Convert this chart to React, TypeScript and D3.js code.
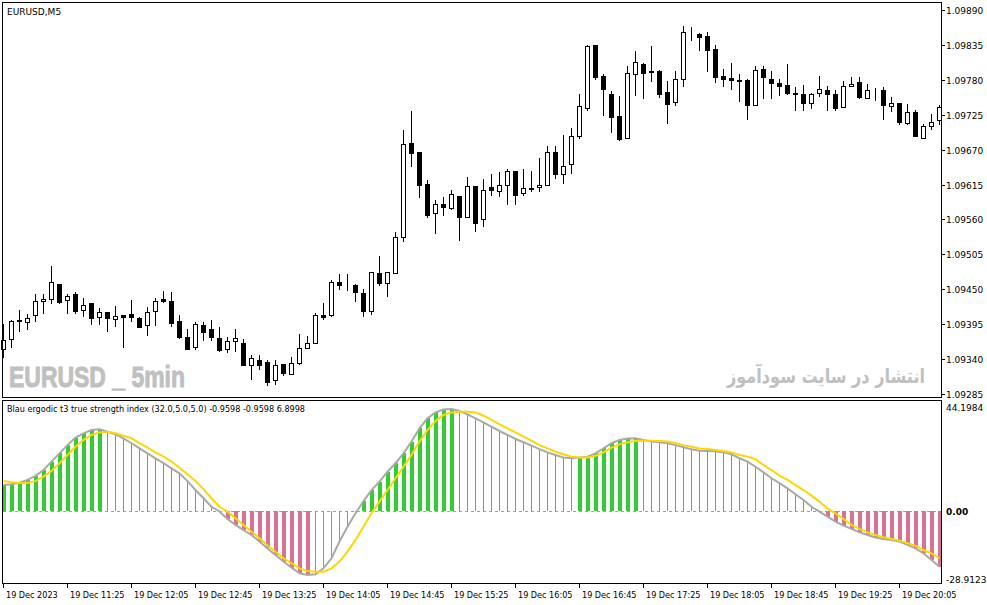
import { useRef, useEffect } from 'react'
import * as d3 from 'd3'

// EURUSD M5 candles, 19 Dec 2023, one bar every 5 minutes from 10:45
const candleOpen = [
  1.09356, 1.09371, 1.09400, 1.09399, 1.09409, 1.09431, 1.09435, 1.09459, 1.09433, 1.09442,
  1.09418, 1.09428, 1.09406, 1.09414, 1.09403, 1.09409, 1.09411, 1.09404, 1.09394, 1.09415,
  1.09435, 1.09431, 1.09400, 1.09375, 1.09359, 1.09393, 1.09387, 1.09373, 1.09356, 1.09368,
  1.09366, 1.09331, 1.09339, 1.09335, 1.09307, 1.09332, 1.09316, 1.09334, 1.09358, 1.09365,
  1.09409, 1.09409, 1.09462, 1.09455, 1.09456, 1.09444, 1.09416, 1.09475, 1.09460, 1.09476,
  1.09533, 1.09680, 1.09666, 1.09616, 1.09570, 1.09585, 1.09578, 1.09597, 1.09564, 1.09612,
  1.09560, 1.09611, 1.09605, 1.09614, 1.09636, 1.09602, 1.09608, 1.09611, 1.09615, 1.09666,
  1.09631, 1.09647, 1.09692, 1.09735, 1.09835, 1.09786, 1.09757, 1.09723, 1.09688, 1.09789,
  1.09805, 1.09793, 1.09794, 1.09761, 1.09745, 1.09782, 1.09853, 1.09852, 1.09849, 1.09828,
  1.09786, 1.09783, 1.09780, 1.09780, 1.09741, 1.09797, 1.09782, 1.09775, 1.09772, 1.09759,
  1.09757, 1.09743, 1.09759, 1.09764, 1.09757, 1.09737, 1.09771, 1.09776, 1.09752, 1.09764,
  1.09764, 1.09739, 1.09743, 1.09712, 1.09730, 1.09689, 1.09708, 1.09717,
]
const candleHigh = [
  1.09395, 1.09402, 1.09417, 1.09411, 1.09442, 1.09442, 1.09487, 1.09459, 1.09442, 1.09446,
  1.09436, 1.09429, 1.09420, 1.09414, 1.09424, 1.09409, 1.09433, 1.09407, 1.09422, 1.09436,
  1.09448, 1.09446, 1.09409, 1.09387, 1.09399, 1.09399, 1.09401, 1.09391, 1.09375, 1.09388,
  1.09371, 1.09346, 1.09346, 1.09338, 1.09339, 1.09332, 1.09343, 1.09380, 1.09376, 1.09412,
  1.09428, 1.09464, 1.09474, 1.09474, 1.09458, 1.09450, 1.09477, 1.09502, 1.09477, 1.09541,
  1.09701, 1.09731, 1.09666, 1.09622, 1.09591, 1.09595, 1.09606, 1.09597, 1.09627, 1.09613,
  1.09624, 1.09632, 1.09635, 1.09640, 1.09637, 1.09639, 1.09636, 1.09657, 1.09675, 1.09676,
  1.09693, 1.09704, 1.09757, 1.09835, 1.09835, 1.09789, 1.09762, 1.09754, 1.09802, 1.09825,
  1.09806, 1.09833, 1.09795, 1.09778, 1.09794, 1.09865, 1.09864, 1.09853, 1.09855, 1.09835,
  1.09797, 1.09806, 1.09789, 1.09781, 1.09801, 1.09801, 1.09794, 1.09782, 1.09805, 1.09768,
  1.09772, 1.09759, 1.09786, 1.09770, 1.09764, 1.09778, 1.09784, 1.09785, 1.09774, 1.09767,
  1.09769, 1.09753, 1.09743, 1.09742, 1.09733, 1.09711, 1.09726, 1.09740,
]
const candleLow = [
  1.09343, 1.09359, 1.09385, 1.09387, 1.09400, 1.09413, 1.09428, 1.09428, 1.09412, 1.09412,
  1.09408, 1.09395, 1.09396, 1.09384, 1.09392, 1.09359, 1.09400, 1.09391, 1.09378, 1.09394,
  1.09430, 1.09392, 1.09374, 1.09356, 1.09356, 1.09370, 1.09370, 1.09353, 1.09351, 1.09353,
  1.09331, 1.09308, 1.09324, 1.09299, 1.09301, 1.09315, 1.09316, 1.09333, 1.09358, 1.09365,
  1.09403, 1.09408, 1.09450, 1.09449, 1.09432, 1.09408, 1.09411, 1.09457, 1.09440, 1.09476,
  1.09526, 1.09645, 1.09596, 1.09564, 1.09539, 1.09567, 1.09576, 1.09528, 1.09564, 1.09542,
  1.09549, 1.09598, 1.09597, 1.09585, 1.09585, 1.09599, 1.09605, 1.09605, 1.09615, 1.09625,
  1.09618, 1.09633, 1.09688, 1.09732, 1.09782, 1.09725, 1.09697, 1.09685, 1.09688, 1.09756,
  1.09752, 1.09778, 1.09753, 1.09712, 1.09740, 1.09770, 1.09843, 1.09827, 1.09794, 1.09777,
  1.09770, 1.09765, 1.09747, 1.09719, 1.09741, 1.09752, 1.09751, 1.09756, 1.09758, 1.09732,
  1.09732, 1.09736, 1.09755, 1.09733, 1.09733, 1.09737, 1.09771, 1.09752, 1.09752, 1.09748,
  1.09719, 1.09731, 1.09710, 1.09711, 1.09692, 1.09689, 1.09702, 1.09711,
]
const candleClose = [
  1.09370, 1.09400, 1.09402, 1.09404, 1.09431, 1.09435, 1.09461, 1.09430, 1.09439, 1.09416,
  1.09426, 1.09404, 1.09414, 1.09404, 1.09408, 1.09407, 1.09406, 1.09391, 1.09414, 1.09431,
  1.09432, 1.09397, 1.09375, 1.09356, 1.09395, 1.09383, 1.09375, 1.09355, 1.09368, 1.09373,
  1.09331, 1.09341, 1.09331, 1.09304, 1.09331, 1.09318, 1.09334, 1.09358, 1.09365, 1.09409,
  1.09407, 1.09462, 1.09456, 1.09455, 1.09446, 1.09415, 1.09477, 1.09460, 1.09477, 1.09532,
  1.09679, 1.09665, 1.09615, 1.09567, 1.09585, 1.09580, 1.09600, 1.09564, 1.09612, 1.09555,
  1.09607, 1.09607, 1.09614, 1.09637, 1.09599, 1.09609, 1.09609, 1.09615, 1.09666, 1.09631,
  1.09644, 1.09692, 1.09738, 1.09833, 1.09785, 1.09766, 1.09722, 1.09687, 1.09790, 1.09808,
  1.09790, 1.09794, 1.09758, 1.09742, 1.09781, 1.09856, 1.09853, 1.09847, 1.09827, 1.09785,
  1.09782, 1.09779, 1.09778, 1.09741, 1.09795, 1.09785, 1.09775, 1.09770, 1.09760, 1.09757,
  1.09744, 1.09757, 1.09765, 1.09758, 1.09736, 1.09771, 1.09774, 1.09753, 1.09764, 1.09764,
  1.09741, 1.09743, 1.09714, 1.09729, 1.09692, 1.09708, 1.09714, 1.09737,
]

// Blau ergodic T3 TSI: main line (gray / histogram) and signal (yellow)
const tsiMain = [
  11.05, 11.35, 12.0, 13.2, 14.9, 17.4, 21.0, 24.5, 28.0, 31.2,
  33.0, 34.4, 34.7, 33.7, 32.6, 30.9, 28.8, 26.6, 24.5, 22.4,
  20.3, 18.1, 16.0, 12.7, 8.9, 5.4, 1.8, -0.2, -3.4, -5.9,
  -8.1, -10.2, -13.0, -15.9, -18.7, -21.5, -24.1, -26.5, -27.2, -26.9,
  -24.4, -20.1, -13.0, -6.7, -1.0, 4.2, 8.9, 12.5, 16.7, 20.3,
  24.5, 29.5, 35.1, 39.4, 41.9, 43.1, 43.3, 42.5, 41.1, 39.4,
  37.7, 35.8, 34.0, 32.3, 30.6, 29.2, 27.8, 26.3, 24.9, 23.8,
  22.7, 22.4, 22.7, 23.1, 24.5, 26.6, 28.8, 30.2, 30.8, 30.9,
  30.2, 29.5, 29.2, 28.8, 28.0, 27.1, 26.2, 25.6, 25.5, 25.4,
  24.9, 24.1, 22.4, 21.0, 18.8, 16.4, 13.9, 11.8, 9.6, 7.1,
  4.7, 1.8, -0.3, -2.4, -4.5, -6.2, -7.6, -9.1, -10.2, -11.3,
  -11.9, -12.3, -13.0, -14.4, -15.9, -18.0, -20.8, -23.7,
]
const tsiSignal = [
  12.7, 12.2, 11.9, 11.9, 12.7, 14.6, 17.0, 20.3, 23.8, 27.3,
  30.2, 32.3, 33.4, 33.7, 33.0, 32.0, 30.9, 28.8, 26.9, 24.9,
  23.1, 21.0, 18.4, 15.6, 12.7, 9.3, 5.4, 1.8, -0.3, -3.1,
  -5.9, -8.8, -11.6, -14.7, -17.3, -20.1, -22.2, -24.4, -25.5, -25.8,
  -25.8, -24.4, -21.5, -17.3, -12.3, -6.7, -1.0, 4.0, 8.9, 13.9,
  18.8, 23.8, 29.5, 34.4, 38.2, 40.8, 41.9, 42.2, 42.2, 41.9,
  40.5, 38.7, 36.8, 35.1, 33.4, 31.6, 29.9, 28.0, 26.6, 25.2,
  24.1, 23.1, 22.7, 22.7, 23.5, 24.9, 26.9, 28.3, 29.2, 29.7,
  30.0, 29.9, 29.7, 29.5, 28.8, 28.0, 27.3, 26.6, 26.3, 25.9,
  25.5, 24.9, 23.8, 23.1, 22.0, 19.5, 17.4, 15.0, 13.2, 11.0,
  8.9, 6.5, 4.0, 1.1, -1.0, -3.4, -5.9, -7.6, -9.1, -10.2,
  -11.2, -11.9, -12.6, -13.7, -14.7, -16.6, -18.0, -20.1,
]

const priceTicks = [1.0989, 1.09835, 1.0978, 1.09725, 1.0967, 1.09615, 1.0956, 1.09505, 1.0945, 1.09395, 1.0934, 1.09285]
const tsiTicks = [44.1984, 0, -28.9123]
const tsiTickLabels = ['44.1984', '0.00', '-28.9123']
const timeTickBars = [0, 8, 16, 24, 32, 40, 48, 56, 64, 72, 80, 88, 96, 104, 112]
const timeTickLabels = [
  '19 Dec 2023', '19 Dec 11:25', '19 Dec 12:05', '19 Dec 12:45', '19 Dec 13:25',
  '19 Dec 14:05', '19 Dec 14:45', '19 Dec 15:25', '19 Dec 16:05', '19 Dec 16:45',
  '19 Dec 17:25', '19 Dec 18:05', '19 Dec 18:45', '19 Dec 19:25', '19 Dec 20:05',
]

const FONT = "'DejaVu Sans', sans-serif"

export default function App() {
  const svgRef = useRef<SVGSVGElement>(null)

  useEffect(() => {
    if (!svgRef.current) return
    const width = 987
    const height = 605
    const svg = d3.select(svgRef.current)
    svg.selectAll('*').remove()
    svg.attr('width', width).attr('height', height)

    const left = 2.5
    const right = 941.5
    const mainTop = 2.5
    const mainBottom = 397.5
    const subTop = 400.5
    const subBottom = 583.5

    const n = candleOpen.length
    const x = d3.scaleLinear().domain([0, n - 1]).range([3, 3 + 8 * (n - 1)])
    const y = d3.scaleLinear().domain([1.09285, 1.0989]).range([394, 10])
    const ys = d3.scaleLinear().domain([-28.9123, 44.1984]).range([579, 407])
    const px = (i: number) => Math.round(x(i))
    const py = (v: number) => Math.round(y(v))

    svg.append('rect').attr('width', width).attr('height', height).attr('fill', '#fff')

    // watermarks
    svg.append('text')
      .attr('x', 9).attr('y', 387)
      .attr('font-family', "'Liberation Sans Narrow', 'Liberation Sans', sans-serif")
      .attr('font-weight', 'bold').attr('font-size', 29)
      .attr('textLength', 176).attr('lengthAdjust', 'spacingAndGlyphs')
      .attr('fill', '#c0c0c0')
      .attr('stroke', '#c0c0c0').attr('stroke-width', 1)
      .text('EURUSD _ 5min')
    svg.append('text')
      .attr('x', 826).attr('y', 383)
      .attr('text-anchor', 'middle')
      .attr('font-family', FONT)
      .attr('font-weight', 'bold').attr('font-size', 20)
      .attr('textLength', 198).attr('lengthAdjust', 'spacingAndGlyphs')
      .attr('fill', '#c0c0c0')
      .text('انتشار در سایت سودآموز')

    const g = svg.append('g').attr('shape-rendering', 'crispEdges')

    // candles
    const idx = d3.range(n)
    g.selectAll('.wick')
      .data(idx)
      .join('line')
      .attr('x1', i => px(i) + 0.5).attr('x2', i => px(i) + 0.5)
      .attr('y1', i => py(candleHigh[i])).attr('y2', i => py(candleLow[i]) + 1)
      .attr('stroke', '#000')

    g.selectAll('.body')
      .data(idx)
      .join('rect')
      .attr('x', i => px(i) - 1.5)
      .attr('width', 4)
      .attr('y', i => py(Math.max(candleOpen[i], candleClose[i])) + 0.5)
      .attr('height', i => Math.max(0, py(Math.min(candleOpen[i], candleClose[i])) - py(Math.max(candleOpen[i], candleClose[i]))))
      .attr('fill', i => (candleClose[i] < candleOpen[i] ? '#000' : '#fff'))
      .attr('stroke', '#000')

    // indicator: zero line, histogram, lines
    const zeroY = Math.round(ys(0)) + 0.5
    g.append('line')
      .attr('x1', left).attr('x2', right)
      .attr('y1', zeroY).attr('y2', zeroY)
      .attr('stroke', '#a0a0a0')
      .attr('stroke-dasharray', '3,3')

    // thick bars while the main line moves away from zero, thin while it returns
    const thick = (i: number) => {
      if (i === 0) return true
      const v = tsiMain[i]
      const p = tsiMain[i - 1]
      return v >= 0 ? v > p : v < p
    }
    const histColor = (i: number) => (tsiMain[i] >= 0 ? '#32cd32' : '#db7093')
    g.selectAll('.hist')
      .data(idx.filter(thick))
      .join('rect')
      .attr('x', i => px(i) - 1)
      .attr('width', 4)
      .attr('y', i => Math.round(Math.min(ys(0), ys(tsiMain[i]))))
      .attr('height', i => Math.round(Math.abs(ys(0) - ys(tsiMain[i]))))
      .attr('fill', histColor)
    g.selectAll('.histThin')
      .data(idx.filter(i => !thick(i)))
      .join('line')
      .attr('x1', i => px(i) + 0.5).attr('x2', i => px(i) + 0.5)
      .attr('y1', Math.round(ys(0)))
      .attr('y2', i => Math.round(ys(tsiMain[i])))
      .attr('stroke', histColor)
      .attr('stroke-width', 1)

    const line = (vals: number[]) =>
      d3.line<number>().x((_, i) => x(i) + 0.5).y(v => ys(v))(vals)
    svg.append('path')
      .attr('d', line(tsiMain))
      .attr('fill', 'none').attr('stroke', '#a9a9a9').attr('stroke-width', 2)
    svg.append('path')
      .attr('d', line(tsiSignal))
      .attr('fill', 'none').attr('stroke', '#ffd700').attr('stroke-width', 2)

    // frames
    g.append('rect')
      .attr('x', left).attr('y', mainTop)
      .attr('width', right - left).attr('height', mainBottom - mainTop)
      .attr('fill', 'none').attr('stroke', '#000')
    g.append('rect')
      .attr('x', left).attr('y', subTop)
      .attr('width', right - left).attr('height', subBottom - subTop)
      .attr('fill', 'none').attr('stroke', '#000')

    // price axis
    g.selectAll('.ptick')
      .data(priceTicks)
      .join('line')
      .attr('x1', right).attr('x2', right + 3)
      .attr('y1', d => py(d) + 0.5).attr('y2', d => py(d) + 0.5)
      .attr('stroke', '#000')
    svg.selectAll('.plabel')
      .data(priceTicks)
      .join('text')
      .attr('x', 946).attr('y', d => py(d) + 4)
      .attr('font-family', FONT).attr('font-size', 9)
      .attr('fill', '#000')
      .text(d => d.toFixed(5))

    // indicator axis
    svg.selectAll('.slabel')
      .data(tsiTicks)
      .join('text')
      .attr('x', 946).attr('y', d => Math.round(ys(d)) + 4)
      .attr('font-family', FONT).attr('font-size', 9)
      .attr('font-weight', d => (d === 0 ? 'bold' : 'normal'))
      .attr('fill', '#000')
      .text((_, i) => tsiTickLabels[i])

    // time axis
    g.selectAll('.ttick')
      .data(timeTickBars)
      .join('line')
      .attr('x1', i => px(i) + 0.5).attr('x2', i => px(i) + 0.5)
      .attr('y1', subBottom).attr('y2', subBottom + 4)
      .attr('stroke', '#000')
    svg.selectAll('.tlabel')
      .data(timeTickBars)
      .join('text')
      .attr('x', i => px(i) + 3).attr('y', 598)
      .attr('font-family', "'DejaVu Sans Condensed', 'DejaVu Sans', sans-serif")
      .attr('font-stretch', 'condensed')
      .attr('font-size', 9)
      .attr('fill', '#000')
      .text((_, k) => timeTickLabels[k])

    // titles
    svg.append('text')
      .attr('x', 7).attr('y', 15)
      .attr('font-family', FONT).attr('font-size', 9)
      .attr('fill', '#000')
      .text('EURUSD,M5')
    svg.append('text')
      .attr('x', 7).attr('y', 412)
      .attr('font-family', "'DejaVu Sans Condensed', 'DejaVu Sans', sans-serif")
      .attr('font-stretch', 'condensed')
      .attr('font-size', 9)
      .attr('textLength', 298).attr('lengthAdjust', 'spacingAndGlyphs')
      .attr('fill', '#000')
      .text('Blau ergodic t3 true strength index (32.0,5.0,5.0) -0.9598 -0.9598 6.8998')
  }, [])

  return <svg ref={svgRef} style={{ position: 'absolute', left: 0, top: 0, display: 'block' }} />
}
